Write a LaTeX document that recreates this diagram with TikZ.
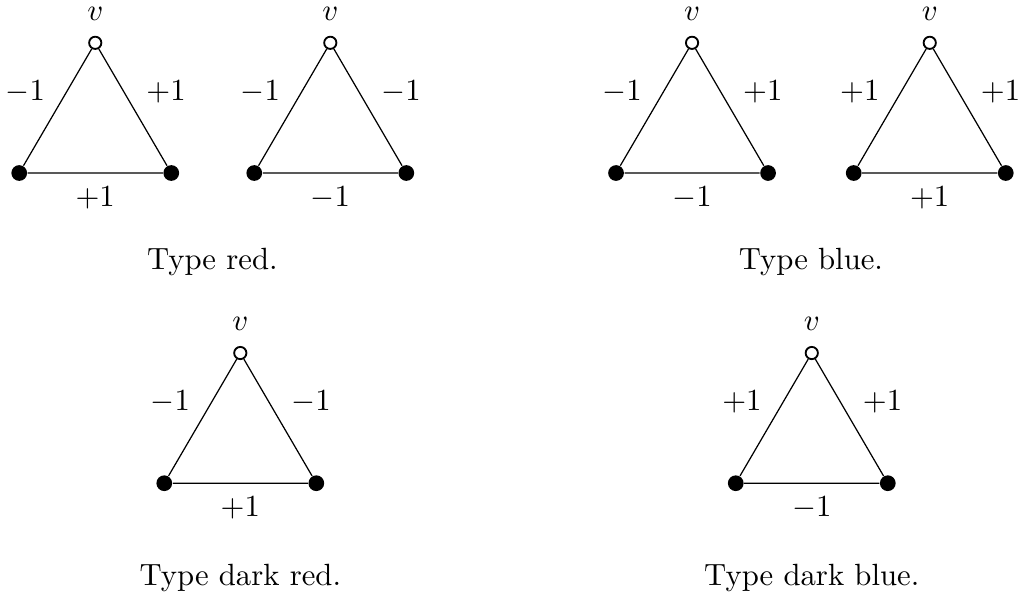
\documentclass[tikz,border=0pt]{standalone}
\usepackage{amsmath}
\usepackage{amssymb}
\usepackage{tikz}
\usetikzlibrary{positioning}

\begin{document}
\begin{tikzpicture}[on grid,
        open/.style={circle,draw,semithick,fill=white,inner sep=0pt,minimum size=0.14cm},
        full/.style={circle,fill,inner sep=0pt,minimum size=0.18cm}]
        \useasboundingbox (0,0) rectangle (11.65,6.84);
        \foreach \n/\x/\y/\l/\r/\b in {a/1.09/6.35/-1/+1/+1, b/3.78/6.35/-1/-1/-1, c/7.92/6.35/-1/+1/-1,
            d/10.64/6.35/+1/+1/+1, e/2.75/2.80/-1/-1/+1, f/9.29/2.80/+1/+1/-1} {
            \node[open] (\n-top) at (\x,\y) {};
            \node[full] (\n-left) [below left=1.49cm and 0.87cm of \n-top] {};
            \node[full] (\n-right) [below right=1.49cm and 0.87cm of \n-top] {};
            \draw (\n-left) -- (\n-top) -- (\n-right) -- (\n-left);
            \node (\n-v) [above=0.33cm of \n-top] {$v$};
            \node (\n-l) [below left=0.56cm and 0.80cm of \n-top] {$\l$};
            \node (\n-r) [below right=0.56cm and 0.81cm of \n-top] {$\r$};
            \node (\n-b) [below=1.77cm of \n-top] {$\b$};
        }
        \node (red) at (2.43,3.84) {Type red.};
        \node (blue) at (9.28,3.84) {Type blue.};
        \node (darkred) at (2.75,0.23) {Type dark red.};
        \node (darkblue) at (9.29,0.23) {Type dark blue.};
    \end{tikzpicture}
\end{document}
